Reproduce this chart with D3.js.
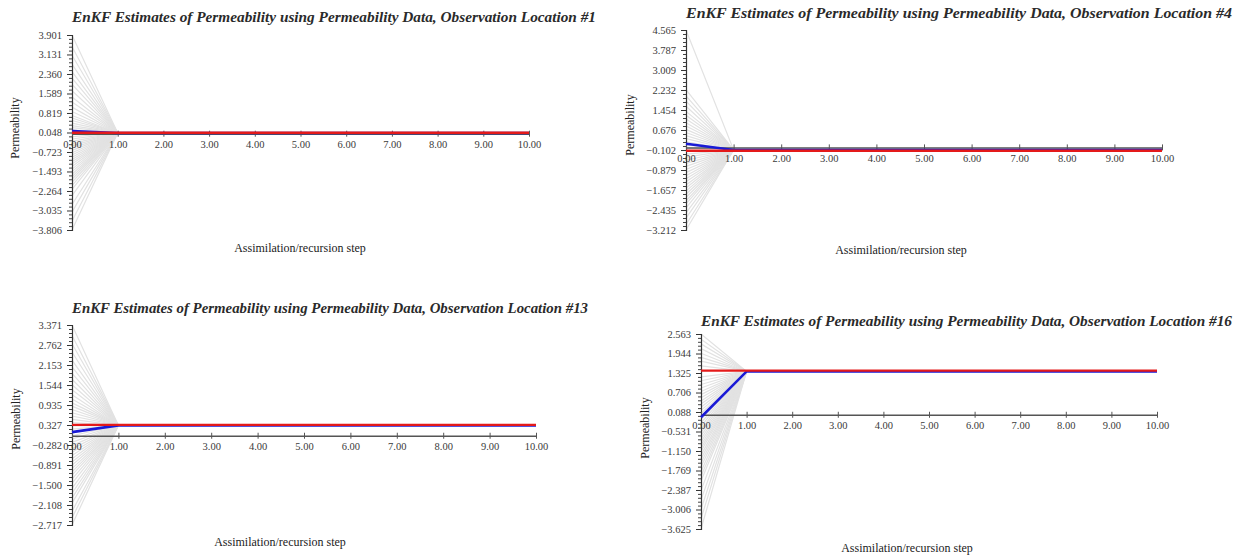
<!DOCTYPE html>
<html>
<head>
<meta charset="utf-8">
<script src="https://cdn.jsdelivr.net/npm/d3@7"></script>
<style>
  html, body { margin: 0; padding: 0; background: #fff; }
  svg { display: block; }
  .title { font-family: "Liberation Serif", "DejaVu Serif", serif; font-style: italic; font-weight: bold; fill: #2a2a2a; }
  .axis-label { font-family: "Liberation Serif", "DejaVu Serif", serif; font-size: 12px; fill: #222; }
  .tick text { font-family: "Liberation Serif", "DejaVu Serif", serif; font-size: 10.5px; fill: #3a3a3a; }
</style>
</head>
<body>
<svg id="chart" width="1243" height="556"></svg>
<script>
// Assimilation steps shared by all four observation locations
const steps = [0, 1, 2, 3, 4, 5, 6, 7, 8, 9, 10];

// Observation location #1
const loc1Title = "EnKF Estimates of Permeability using Permeability Data, Observation Location #1";
const loc1Ticks = [3.901, 3.131, 2.360, 1.589, 0.819, 0.048, -0.723, -1.493, -2.264, -3.035, -3.806];
const loc1Prior = [3.901, 3.45, 3.1, 2.75, 2.45, 2.2, 1.95, 1.7, 1.45, 1.25, 1.05, 0.88, 0.72, 0.62, 0.52,
  0.42, 0.32, 0.24, 0.15, 0.06, -0.03, -0.12, -0.21, -0.3, -0.39, -0.48, -0.57, -0.66, -0.75, -0.84,
  -0.93, -1.02, -1.11, -1.2, -1.3, -1.4, -1.5, -1.6, -1.7, -1.8, -1.92, -2.05, -2.2, -2.45, -2.8,
  -3.1, -3.45, -3.806];
const loc1Posterior = 0.03;
const loc1Mean = [0.10, 0.03, 0.03, 0.03, 0.03, 0.03, 0.03, 0.03, 0.03, 0.03, 0.03];
const loc1Truth = 0.04;

// Observation location #4
const loc4Title = "EnKF Estimates of Permeability using Permeability Data, Observation Location #4";
const loc4Ticks = [4.565, 3.787, 3.009, 2.232, 1.454, 0.676, -0.102, -0.879, -1.657, -2.435, -3.212];
const loc4Prior = [4.565, 2.25, 2.0, 1.8, 1.6, 1.4, 1.25, 1.1, 0.96, 0.83, 0.7, 0.58, 0.46, 0.34, 0.22,
  0.1, -0.02, -0.14, -0.26, -0.38, -0.5, -0.62, -0.74, -0.86, -0.98, -1.1, -1.22, -1.34, -1.46, -1.58,
  -1.7, -1.82, -1.95, -2.08, -2.2, -2.35, -2.55, -2.75, -3.0, -3.212];
const loc4Posterior = -0.10;
const loc4Mean = [0.14, -0.10, -0.10, -0.10, -0.10, -0.10, -0.10, -0.10, -0.10, -0.10, -0.10];
const loc4Truth = -0.13;

// Observation location #13
const loc13Title = "EnKF Estimates of Permeability using Permeability Data, Observation Location #13";
const loc13Ticks = [3.371, 2.762, 2.153, 1.544, 0.935, 0.327, -0.282, -0.891, -1.500, -2.108, -2.717];
const loc13Prior = [3.371, 3.05, 2.8, 2.55, 2.3, 2.1, 1.9, 1.72, 1.55, 1.4, 1.25, 1.12, 1.0, 0.9, 0.8,
  0.7, 0.6, 0.5, 0.4, 0.3, 0.2, 0.1, 0.0, -0.1, -0.2, -0.3, -0.4, -0.5, -0.6, -0.7, -0.8, -0.9, -1.0,
  -1.1, -1.2, -1.32, -1.45, -1.6, -1.75, -1.9, -2.05, -2.3, -2.5, -2.717];
const loc13Posterior = 0.315;
const loc13Mean = [0.11, 0.315, 0.315, 0.315, 0.315, 0.315, 0.315, 0.315, 0.315, 0.315, 0.315];
const loc13Truth = 0.33;

// Observation location #16
const loc16Title = "EnKF Estimates of Permeability using Permeability Data, Observation Location #16";
const loc16Ticks = [2.563, 1.944, 1.325, 0.706, 0.088, -0.531, -1.150, -1.769, -2.387, -3.006, -3.625];
const loc16Prior = [2.563, 2.4, 2.25, 2.1, 1.95, 1.82, 1.7, 1.55, 1.2, 1.08, 0.96, 0.85, 0.74, 0.64,
  0.54, 0.44, 0.34, 0.24, 0.14, 0.04, -0.06, -0.16, -0.26, -0.36, -0.46, -0.56, -0.66, -0.76, -0.86,
  -0.96, -1.06, -1.16, -1.28, -1.4, -1.52, -1.65, -1.8, -1.95, -2.1, -2.4, -2.7, -3.0, -3.3, -3.625];
const loc16Posterior = 1.375;
const loc16Mean = [-0.08, 1.375, 1.375, 1.375, 1.375, 1.375, 1.375, 1.375, 1.375, 1.375, 1.375];
const loc16Truth = 1.40;

const panels = [
  { title: loc1Title, ticks: loc1Ticks, prior: loc1Prior, posterior: loc1Posterior, mean: loc1Mean, truth: loc1Truth },
  { title: loc4Title, ticks: loc4Ticks, prior: loc4Prior, posterior: loc4Posterior, mean: loc4Mean, truth: loc4Truth },
  { title: loc13Title, ticks: loc13Ticks, prior: loc13Prior, posterior: loc13Posterior, mean: loc13Mean, truth: loc13Truth },
  { title: loc16Title, ticks: loc16Ticks, prior: loc16Prior, posterior: loc16Posterior, mean: loc16Mean, truth: loc16Truth }
];

// Placement of each plot on the page
const frames = [
  { left: 72,  right: 529,  top: 35,  bottom: 230, titleY: 22,  titleW: 524, titleSize: 15, xLab: [300, 252], yLab: [15, 128] },
  { left: 686, right: 1162, top: 30,  bottom: 230, titleY: 18,  titleW: 546, titleSize: 15.5, xLab: [901, 254], yLab: [630, 125] },
  { left: 72,  right: 536,  top: 325, bottom: 525, titleY: 313, titleW: 516, titleSize: 15, xLab: [280, 546], yLab: [16, 419] },
  { left: 701, right: 1157, top: 334, bottom: 529, titleY: 326, titleW: 531, titleSize: 15, xLab: [907, 552], yLab: [645, 428] }
];

const svg = d3.select("#chart");
const fmtY = d3.format(".3f");
const fmtX = d3.format(".2f");

panels.forEach((p, i) => {
  const f = frames[i];
  const g = svg.append("g");

  const x = d3.scaleLinear().domain([steps[0], steps[steps.length - 1]]).range([f.left, f.right]);
  const y = d3.scaleLinear().domain(d3.extent(p.ticks)).range([f.bottom, f.top]);

  const line = d3.line().x((d, k) => x(steps[k])).y(d => y(d));

  // ensemble members: prior draw at step 0, then the updated estimate
  const members = p.prior.map(v => steps.map((s, k) => (k === 0 ? v : p.posterior)));
  g.append("g").selectAll("path").data(members).join("path")
    .attr("d", line)
    .attr("fill", "none")
    .attr("stroke", "#e2e2e2")
    .attr("stroke-width", 1.2);

  // y axis with minor ticks
  const minor = [];
  const sorted = p.ticks.slice().sort((a, b) => a - b);
  for (let k = 0; k < sorted.length - 1; k++) {
    const step = (sorted[k + 1] - sorted[k]) / 5;
    for (let m = 1; m < 5; m++) minor.push(sorted[k] + m * step);
  }
  const yMinor = g.append("g").attr("transform", `translate(${f.left},0)`)
    .call(d3.axisLeft(y).tickValues(minor).tickSize(3).tickFormat(""));
  yMinor.select(".domain").remove();
  yMinor.selectAll("line").attr("stroke", "#444");

  const yAxis = g.append("g").attr("transform", `translate(${f.left},0)`)
    .call(d3.axisLeft(y).tickValues(p.ticks).tickSize(5).tickPadding(5).tickFormat(fmtY));
  yAxis.select(".domain").attr("stroke", "#333").attr("stroke-width", 1.2);
  yAxis.selectAll(".tick line").attr("stroke", "#333");

  // x axis crossing at zero
  const xAxis = g.append("g").attr("transform", `translate(0,${y(0)})`)
    .call(d3.axisBottom(x).tickValues(steps).tickSizeInner(3).tickSizeOuter(0).tickPadding(4).tickFormat(fmtX));
  xAxis.select(".domain").attr("stroke", "#555").attr("stroke-width", 1.5);
  xAxis.selectAll(".tick line").attr("stroke", "#555").attr("y1", -3);

  // ensemble mean
  g.append("path").datum(p.mean)
    .attr("d", line)
    .attr("fill", "none")
    .attr("stroke", "#1a1ad6")
    .attr("stroke-width", 2.6);

  // true value
  g.append("path").datum(steps.map(() => p.truth))
    .attr("d", line)
    .attr("fill", "none")
    .attr("stroke", "#e41a1a")
    .attr("stroke-width", 2.4);

  g.append("text").attr("class", "title")
    .attr("x", f.left).attr("y", f.titleY)
    .attr("font-size", f.titleSize)
    .attr("textLength", f.titleW).attr("lengthAdjust", "spacingAndGlyphs")
    .text(p.title);

  g.append("text").attr("class", "axis-label")
    .attr("x", f.xLab[0]).attr("y", f.xLab[1])
    .attr("text-anchor", "middle")
    .text("Assimilation/recursion step");

  g.append("text").attr("class", "axis-label")
    .attr("transform", `translate(${f.yLab[0] + 4},${f.yLab[1]}) rotate(-90)`)
    .attr("text-anchor", "middle")
    .text("Permeability");
});
</script>
</body>
</html>
